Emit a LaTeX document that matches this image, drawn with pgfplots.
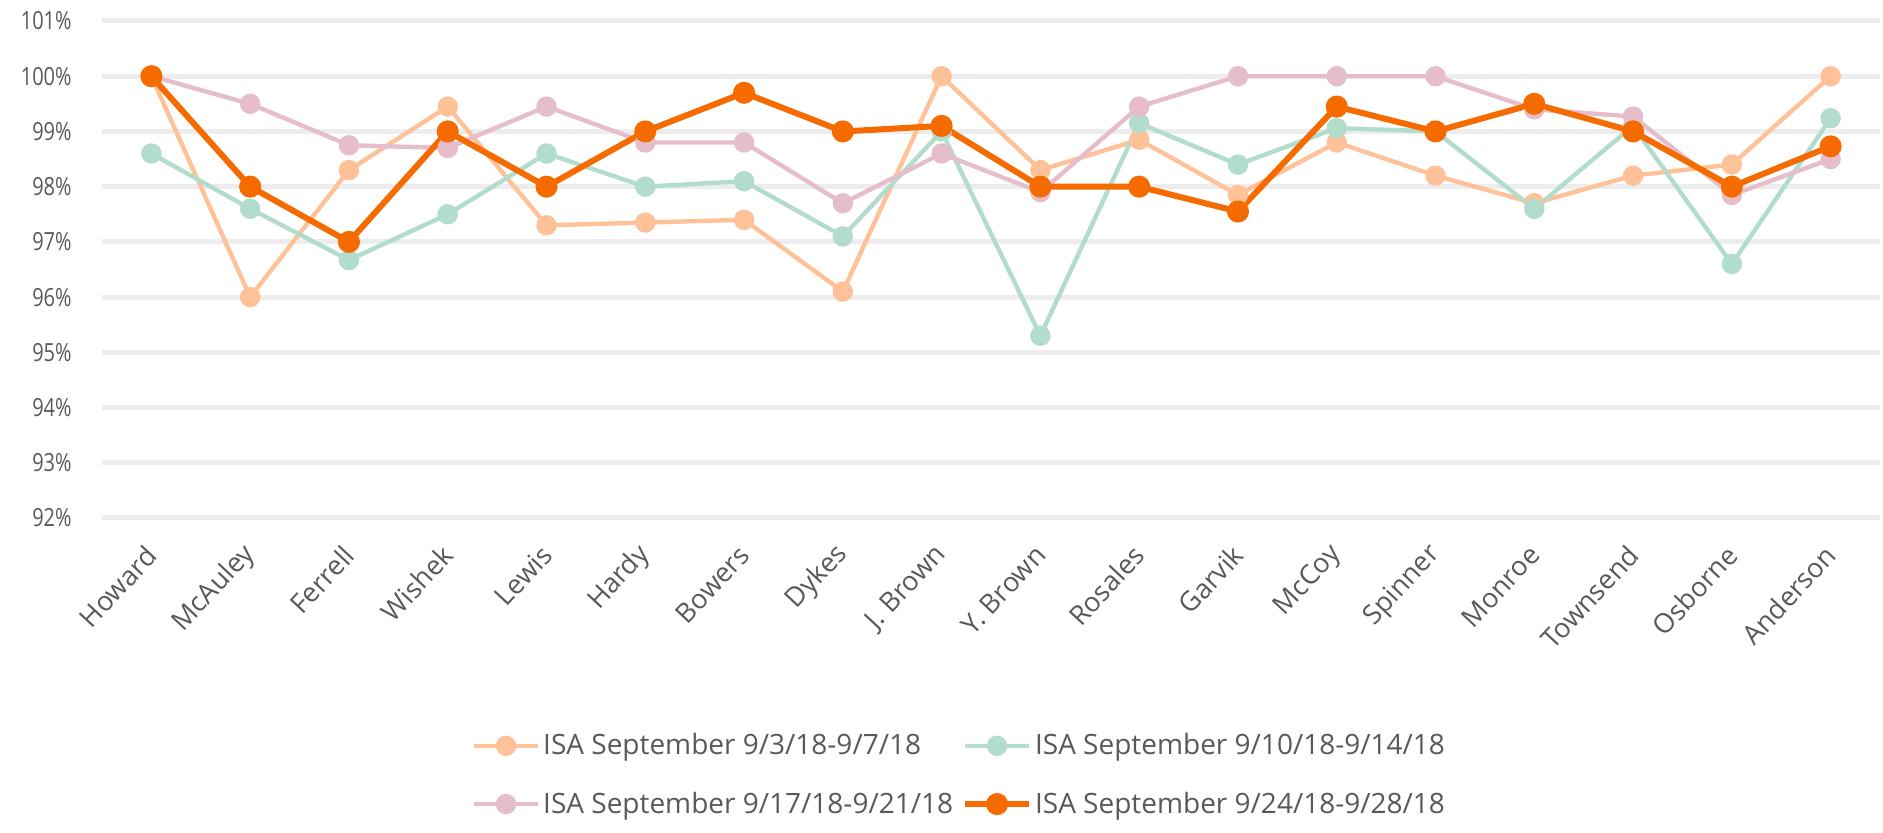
\documentclass[border=0pt]{standalone}
\usepackage{pgfplots}
\pgfplotsset{compat=1.18}
\usepackage{fontspec}
\setmainfont{Open Sans}
\newfontfamily\condensed{Open Sans}[FakeStretch=0.8]
\definecolor{sA}{HTML}{FFC298}
\definecolor{sB}{HTML}{B2DCCB}
\definecolor{sC}{HTML}{E6BECB}
\definecolor{sD}{HTML}{F56B00}
\definecolor{gridc}{HTML}{EDEDED}
\definecolor{txt}{HTML}{595959}
\begin{document}
\begin{tikzpicture}
\path[use as bounding box] (-51pt,-157.5pt) rectangle (890.5pt,259pt);
\begin{axis}[
  at={(0,0)}, anchor=south west,
  scale only axis, width=889pt, height=248.5pt,
  xmin=-0.5, xmax=17.5, ymin=92, ymax=101,
  axis line style={draw=none},
  major tick length=0pt,
  ymajorgrids, grid style={line width=2.5pt, color=gridc},
  xtick={0,...,17},
  xticklabels={Howard,McAuley,Ferrell,Wishek,Lewis,Hardy,Bowers,Dykes,J. Brown,Y. Brown,Rosales,Garvik,McCoy,Spinner,Monroe,Townsend,Osborne,Anderson},
  ytick={92,...,101},
  yticklabels={92\%,93\%,94\%,95\%,96\%,97\%,98\%,99\%,100\%,101\%},
  tick label style={text=txt},
  yticklabel style={font=\condensed\fontsize{12.5}{14}\selectfont, inner sep=0pt, xshift=-15pt},
  xticklabel style={font=\fontsize{13.5}{15}\selectfont, rotate=47, anchor=east, inner sep=0pt, xshift=-11.6pt, yshift=-11.1pt},
  legend columns=2,
  legend style={draw=none, fill=none, at={(0.4825,-0.517)}, anchor=center,
    font=\fontsize{14}{16}\selectfont, text=txt,
    /tikz/every even column/.append style={column sep=3pt},
    row sep=14pt, inner sep=0pt,
    nodes={inner sep=1.5pt}},
  legend cell align=left,
  legend image code/.code={\draw[mark repeat=2,mark phase=2] plot coordinates {(0pt,0pt) (16pt,0pt) (32pt,0pt)};},
  every axis plot/.append style={mark=*, mark size=4pt, mark options={solid}},
]
\addplot[color=sA, line width=2.2pt] coordinates {
(0,100) (1,96.0) (2,98.3) (3,99.45) (4,97.3) (5,97.35) (6,97.4) (7,96.1) (8,100) (9,98.3) (10,98.85) (11,97.85) (12,98.8) (13,98.2) (14,97.7) (15,98.2) (16,98.4) (17,100)};
\addlegendentry{ISA September 9/3/18-9/7/18}
\addplot[color=sB, line width=2.2pt] coordinates {
(0,98.6) (1,97.6) (2,96.67) (3,97.5) (4,98.6) (5,98.0) (6,98.1) (7,97.1) (8,99.0) (9,95.3) (10,99.15) (11,98.4) (12,99.06) (13,99.0) (14,97.6) (15,99.1) (16,96.6) (17,99.24)};
\addlegendentry{ISA September 9/10/18-9/14/18}
\addplot[color=sC, line width=2.2pt] coordinates {
(0,100) (1,99.5) (2,98.75) (3,98.7) (4,99.45) (5,98.8) (6,98.8) (7,97.7) (8,98.6) (9,97.9) (10,99.45) (11,100) (12,100) (13,100) (14,99.4) (15,99.27) (16,97.85) (17,98.5)};
\addlegendentry{ISA September 9/17/18-9/21/18}
\addplot[color=sD, line width=3pt] coordinates {
(0,100) (1,98.0) (2,97.0) (3,99.0) (4,98.0) (5,99.0) (6,99.7) (7,99.0) (8,99.1) (9,98.0) (10,98.0) (11,97.55) (12,99.45) (13,99.0) (14,99.5) (15,99.0) (16,98.0) (17,98.73)};
\addlegendentry{ISA September 9/24/18-9/28/18}
\end{axis}
\end{tikzpicture}
\end{document}
